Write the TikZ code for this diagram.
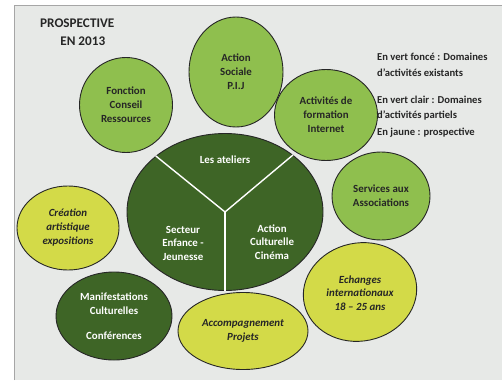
\documentclass[tikz,border=0pt]{standalone}
\usepackage{fontspec}
\setmainfont{Carlito}
\usetikzlibrary{shapes.geometric}
\definecolor{lgreen}{HTML}{8FBF4E}
\definecolor{dgreen}{HTML}{3E6526}
\definecolor{yel}{HTML}{D3DA48}
\definecolor{slide}{HTML}{E7E9E7}
\definecolor{ink}{HTML}{262626}
\tikzset{
  blob/.style={ellipse, draw=ink, line width=0.9pt, inner sep=0pt, align=center,
    font=\fontsize{10.9}{14}\selectfont\bfseries},
  lg/.style={blob, fill=lgreen, text=ink},
  dg/.style={blob, fill=dgreen, text=white},
  yl/.style={blob, fill=yel, text=ink, font=\fontsize{10.9}{14}\selectfont\bfseries\itshape},
  lbl/.style={inner sep=0pt, align=center, font=\fontsize{10.9}{13.5}\selectfont\bfseries},
  legend/.style={inner sep=0pt, anchor=west, align=left, text=ink, font=\fontsize{10.6}{15.5}\selectfont\bfseries},
  divider/.style={white, line width=1.4pt}
}
\begin{document}
\begin{tikzpicture}[x=1pt,y=-1pt]
\useasboundingbox (0,0) rectangle (502,385);
\fill[white] (0,0) rectangle (502,385);
\fill[slide] (14,5) rectangle (502,380);
\draw[gray!70, line width=0.8pt] (14,380) -- (14,5) -- (502,5);

% title
\node[lbl, text=ink, font=\fontsize{13.2}{18}\selectfont\bfseries, anchor=north west] (title) at (40,19) {PROSPECTIVE\\\hspace*{11pt}EN 2013};

% legend
\node[legend] (leg1) at (377,65) {En vert foncé : Domaines\\d’activités existants};
\node[legend] (leg2) at (377,108) {En vert clair : Domaines\\d’activités partiels};
\node[legend] (leg3) at (377,133) {En jaune : prospective};

% circles
\node[lg, minimum width=94pt, minimum height=110pt] (sociale) at (236,72) {Action\\Sociale\\P.I.J};
\node[lg, minimum width=93pt, minimum height=95pt] (conseil) at (126,105) {Fonction\\Conseil\\Ressources};
\node[lg, minimum width=103pt, minimum height=91pt] (formation) at (326,115) {Activités de\\formation\\Internet};
\node[yl, minimum width=102pt, minimum height=84pt] (creation) at (68,228) {Création\\artistique\\expositions};
\node[lg, minimum width=98pt, minimum height=88pt] (services) at (381,196) {Services aux\\Associations};
\node[yl, minimum width=114pt, minimum height=98pt, rotate=12] (echanges) at (360,292) {};
\node[lbl, font=\fontsize{10.9}{13.5}\selectfont\bfseries\itshape, text=ink] (echtxt) at (360,293) {Echanges\\internationaux\\18 – 25 ans};
\node[yl, minimum width=130pt, minimum height=77pt] (accomp) at (243,331) {Accompagnement\\Projets};
\node[dg, minimum width=116pt, minimum height=88pt] (manif) at (114,316) {Manifestations\\Culturelles\\[11pt]Conférences};

% central circle
\node[dg, minimum width=196pt, minimum height=157pt] (centre) at (225,212) {};
\draw[divider] (centre.center) -- (centre.141);
\draw[divider] (centre.center) -- (centre.40);
\draw[divider] (centre.center) -- (centre.270);
\node[lbl, text=white] (ateliers) at (225,160) {Les ateliers};
\node[lbl, text=white] (secteur) at (183,243) {Secteur\\Enfance -\\Jeunesse};
\node[lbl, text=white] (culture) at (272,242) {Action\\Culturelle\\Cinéma};
\end{tikzpicture}
\end{document}
